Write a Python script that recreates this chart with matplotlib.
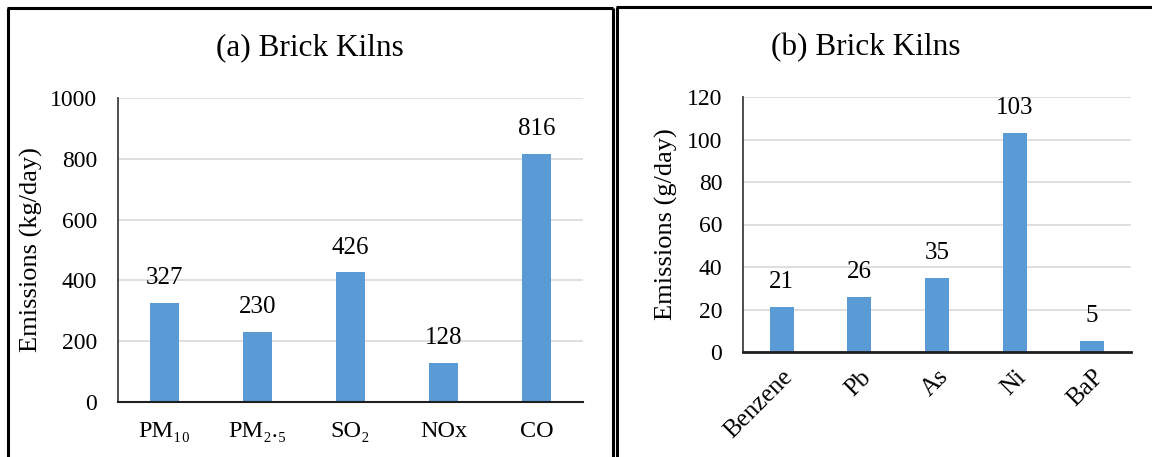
import matplotlib
matplotlib.use("Agg")
import matplotlib.pyplot as plt
from matplotlib.lines import Line2D

plt.rcParams['font.family'] = ['Liberation Serif', 'DejaVu Serif']

# Panel (a): daily emissions of criteria pollutants
pollutants_a = ["PM₁₀", "PM₂.₅", "SO₂", "NOx", "CO"]
values_a = [327, 230, 426, 128, 816]
yticks_a = [0, 200, 400, 600, 800, 1000]

# Panel (b): daily emissions of toxic species
pollutants_b = ["Benzene", "Pb", "As", "Ni", "BaP"]
values_b = [21, 26, 35, 103, 5]
yticks_b = [0, 20, 40, 60, 80, 100, 120]

BAR = "#5B9BD5"
GRID = "#D9D9D9"
W, H = 1152, 457

fig = plt.figure(figsize=(W / 100, H / 100), dpi=100)

def fx(px):
    return px / W

def fy(py):
    return 1 - py / H

# panel frames
frame_kw = dict(transform=fig.transFigure, color="black", lw=2.2, solid_capstyle="butt")
fig.add_artist(Line2D([fx(8), fx(8)], [fy(7.5), 0], **frame_kw))
fig.add_artist(Line2D([fx(7), fx(613)], [fy(8), fy(8)], **frame_kw))
fig.add_artist(Line2D([fx(612.5), fx(612.5)], [fy(7.5), 0], **frame_kw))
fig.add_artist(Line2D([fx(617), fx(617)], [fy(6.5), 0], **frame_kw))
fig.add_artist(Line2D([fx(616), 1], [fy(7), fy(7)], **frame_kw))


def style_axes(ax, yticks, bottom_lw):
    ax.set_ylim(yticks[0], yticks[-1])
    ax.set_yticks(yticks)
    ax.yaxis.grid(True, color=GRID, lw=1.2)
    ax.set_axisbelow(True)
    for s in ("top", "right"):
        ax.spines[s].set_visible(False)
    ax.spines["left"].set_color("#404040")
    ax.spines["left"].set_linewidth(1.3)
    ax.spines["bottom"].set_color("#202020")
    ax.spines["bottom"].set_linewidth(bottom_lw)
    ax.tick_params(axis="both", length=0)
    ax.tick_params(axis="y", pad=15, labelsize=17)


# (a)
ax1 = fig.add_axes([fx(118), fy(402), fx(583) - fx(118), fy(98) - fy(402)])
x1 = range(len(pollutants_a))
bars1 = ax1.bar(x1, values_a, width=0.31, color=BAR)
ax1.set_xlim(-0.5, len(pollutants_a) - 0.5)
style_axes(ax1, yticks_a, 1.5)
ax1.set_xticks(list(x1))
ax1.set_xticklabels(pollutants_a, fontsize=17.5)
ax1.tick_params(axis="x", pad=14)
ax1.set_ylabel("Emissions (kg/day)", fontsize=19)
ax1.yaxis.set_label_coords((43 - 118) / 465, 0.5)
for b, v in zip(bars1, values_a):
    ax1.annotate(f"{v}", (b.get_x() + b.get_width() / 2, v), xytext=(0, 10),
                 textcoords="offset points", ha="center", va="bottom", fontsize=18)
fig.text(fx(310), fy(48), "(a) Brick Kilns", ha="center", va="center", fontsize=22.5)

# (b)
ax2 = fig.add_axes([fx(743), fy(352), fx(1131) - fx(743), fy(97) - fy(352)])
x2 = range(len(pollutants_b))
bars2 = ax2.bar(x2, values_b, width=0.31, color=BAR)
ax2.set_xlim(-0.5, len(pollutants_b) - 0.5)
style_axes(ax2, yticks_b, 2.0)
ax2.set_xticks(list(x2))
ax2.set_xticklabels(pollutants_b, fontsize=18, rotation=45, ha="right",
                    rotation_mode="anchor")
ax2.tick_params(axis="x", pad=10)
ax2.set_ylabel("Emissions (g/day)", fontsize=19)
ax2.yaxis.set_label_coords((678 - 743) / 388, 0.5)
for b, v in zip(bars2, values_b):
    ax2.annotate(f"{v}", (b.get_x() + b.get_width() / 2, v), xytext=(0, 10),
                 textcoords="offset points", ha="center", va="bottom", fontsize=18)
fig.text(fx(866), fy(48), "(b) Brick Kilns", ha="center", va="center", fontsize=22.5)

fig.savefig("out.png", dpi=100)
